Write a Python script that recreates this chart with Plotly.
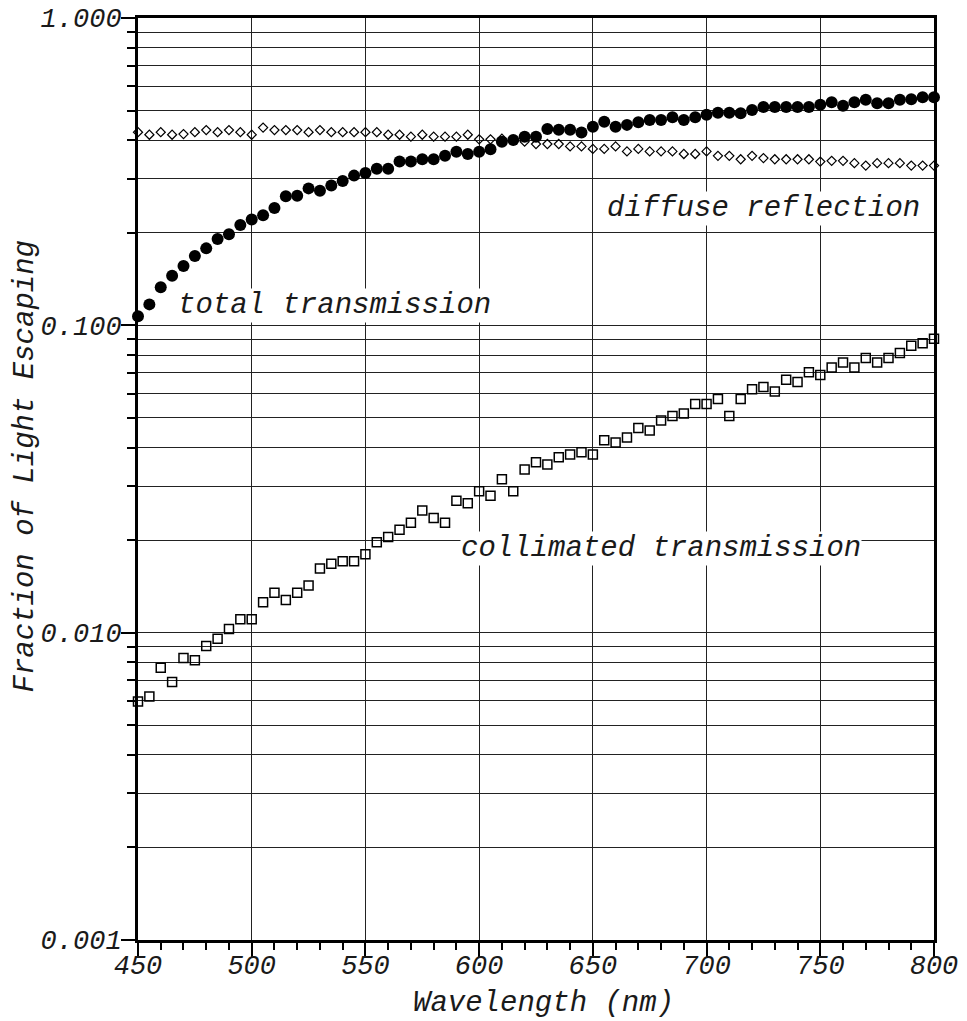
import math
import plotly.graph_objects as go

# Wavelength grid (nm)
wavelength = [450, 455, 460, 465, 470, 475, 480, 485, 490, 495,
              500, 505, 510, 515, 520, 525, 530, 535, 540, 545,
              550, 555, 560, 565, 570, 575, 580, 585, 590, 595,
              600, 605, 610, 615, 620, 625, 630, 635, 640, 645,
              650, 655, 660, 665, 670, 675, 680, 685, 690, 695,
              700, 705, 710, 715, 720, 725, 730, 735, 740, 745,
              750, 755, 760, 765, 770, 775, 780, 785, 790, 795,
              800]

total_transmission = [0.107, 0.117, 0.133, 0.145, 0.156, 0.168, 0.178, 0.191, 0.198, 0.212,
                      0.221, 0.228, 0.241, 0.263, 0.264, 0.279, 0.274, 0.285, 0.295, 0.307,
                      0.313, 0.323, 0.323, 0.341, 0.341, 0.347, 0.347, 0.356, 0.367, 0.361,
                      0.367, 0.374, 0.396, 0.401, 0.411, 0.411, 0.435, 0.433, 0.433, 0.424,
                      0.443, 0.460, 0.443, 0.449, 0.458, 0.466, 0.466, 0.475, 0.466, 0.475,
                      0.484, 0.492, 0.492, 0.490, 0.502, 0.513, 0.513, 0.513, 0.513, 0.513,
                      0.522, 0.532, 0.518, 0.532, 0.542, 0.528, 0.528, 0.542, 0.544, 0.552,
                      0.552]

diffuse_reflection = [0.425, 0.417, 0.425, 0.417, 0.419, 0.425, 0.432, 0.425, 0.432, 0.425,
                      0.417, 0.440, 0.432, 0.432, 0.432, 0.425, 0.432, 0.425, 0.425, 0.425,
                      0.425, 0.425, 0.417, 0.417, 0.411, 0.417, 0.411, 0.411, 0.411, 0.417,
                      0.403, 0.403, 0.405, 0.400, 0.396, 0.389, 0.389, 0.389, 0.382, 0.382,
                      0.375, 0.375, 0.382, 0.368, 0.375, 0.368, 0.368, 0.368, 0.361, 0.361,
                      0.368, 0.356, 0.356, 0.347, 0.356, 0.350, 0.347, 0.347, 0.347, 0.347,
                      0.341, 0.343, 0.343, 0.337, 0.331, 0.337, 0.337, 0.337, 0.331, 0.331,
                      0.331]

collimated_transmission = [0.00597, 0.0062, 0.00769, 0.00691, 0.00827, 0.00813, 0.00905, 0.00956, 0.01028, 0.01105,
                           0.01105, 0.01255, 0.01349, 0.01277, 0.01349, 0.01425, 0.01618, 0.01675, 0.01709, 0.01709,
                           0.0180, 0.0197, 0.02046, 0.02163, 0.02278, 0.02497, 0.02363, 0.02278, 0.02685, 0.02638,
                           0.02887, 0.02788, 0.03158, 0.02887, 0.03396, 0.03587, 0.03525, 0.03724, 0.0380, 0.03866,
                           0.0380, 0.04228, 0.04155, 0.04313, 0.04638, 0.04546, 0.04899, 0.05073, 0.05163, 0.05549,
                           0.05549, 0.05761, 0.05073, 0.05761, 0.06194, 0.06303, 0.06086, 0.06658, 0.06542, 0.07036,
                           0.06897, 0.07285, 0.07563, 0.07285, 0.0783, 0.07563, 0.0783, 0.08131, 0.08588, 0.0874,
                           0.09051]

x_ticks = [450, 500, 550, 600, 650, 700, 750, 800]
x_minor_ticks = [w for w in range(450, 801, 10) if w % 50 != 0]
y_ticks = [0.001, 0.01, 0.1, 1.0]
y_tick_labels = ["0.001", "0.010", "0.100", "1.000"]
y_minor_ticks = [m * d for d in (0.001, 0.01, 0.1) for m in range(2, 10)]

FONT = "Liberation Mono"
INK = "#1a1a1a"

fig = go.Figure()

fig.add_trace(go.Scatter(
    x=wavelength, y=diffuse_reflection, mode="markers", name="diffuse reflection",
    marker=dict(symbol="diamond-open", size=7, color="black", line=dict(width=1.2, color="black")),
    cliponaxis=False,
))
fig.add_trace(go.Scatter(
    x=wavelength, y=collimated_transmission, mode="markers", name="collimated transmission",
    marker=dict(symbol="square-open", size=9, color="black", line=dict(width=1.5, color="black")),
    cliponaxis=False,
))
fig.add_trace(go.Scatter(
    x=wavelength, y=total_transmission, mode="markers", name="total transmission",
    marker=dict(symbol="circle", size=12, color="black", line=dict(width=0)),
    cliponaxis=False,
))

label_font = dict(family=FONT, size=29, color=INK, style="italic")
# Series labels sit on white boxes that break the grid behind them
for text, x, y in [("total transmission", 536.4, 0.116),
                   ("diffuse reflection", 725.1, 0.2406),
                   ("collimated transmission", 679.8, 0.01875)]:
    fig.add_annotation(x=x, y=math.log10(y), xref="x", yref="y", text=text, showarrow=False,
                       font=label_font, bgcolor="white", borderpad=0,
                       xanchor="center", yanchor="middle")

fig.add_annotation(text="Wavelength (nm)", xref="paper", yref="paper",
                   x=0.509, y=-0.0684, showarrow=False, xanchor="center", yanchor="middle",
                   font=label_font)
fig.add_annotation(text="Fraction of Light Escaping", xref="paper", yref="paper",
                   x=-0.1415, y=0.514, showarrow=False, xanchor="center", yanchor="middle",
                   textangle=-90, font=label_font)

fig.update_xaxes(
    range=[450, 800], tickmode="array", tickvals=x_ticks,
    ticks="outside", ticklen=14, tickwidth=2, tickcolor="black",
    ticklabelstandoff=-15,
    tickfont=dict(family=FONT, size=27, color=INK, style="italic"),
    showgrid=True, gridcolor="#222", gridwidth=1,
    showline=True, linecolor="black", linewidth=3, mirror=True,
    zeroline=False, automargin=False,
    minor=dict(tickmode="array", tickvals=x_minor_ticks, ticks="outside",
               ticklen=7, tickwidth=2, tickcolor="black", showgrid=False),
)
fig.update_yaxes(
    type="log", range=[-3, 0], tickmode="array", tickvals=y_ticks, ticktext=y_tick_labels,
    ticks="outside", ticklen=14, tickwidth=2, tickcolor="black",
    ticklabelstandoff=-6,
    tickfont=dict(family=FONT, size=27, color=INK, style="italic"),
    showgrid=True, gridcolor="#222", gridwidth=1,
    showline=True, linecolor="black", linewidth=3, mirror=True,
    zeroline=False, automargin=False,
    minor=dict(tickmode="array", tickvals=y_minor_ticks, ticks="outside",
               ticklen=8, tickwidth=2, tickcolor="black",
               showgrid=True, gridcolor="#222", gridwidth=1),
)

fig.update_layout(
    width=967, height=1021,
    margin=dict(l=138, r=33, t=18, b=81),
    paper_bgcolor="white", plot_bgcolor="white",
    showlegend=False,
)

fig.write_html("out.html")
